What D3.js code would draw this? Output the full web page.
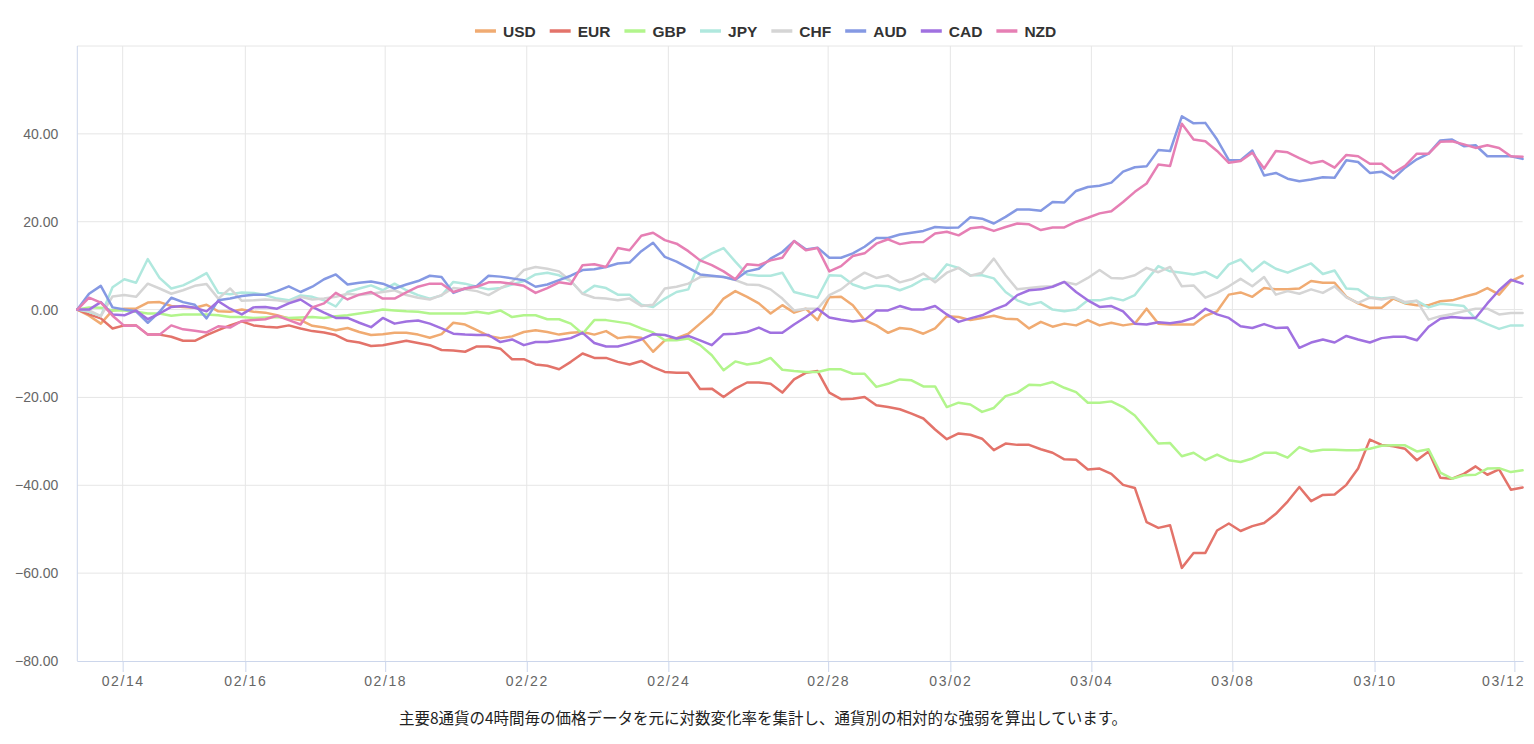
<!DOCTYPE html>
<html>
<head>
<meta charset="utf-8">
<script src="https://cdn.jsdelivr.net/npm/d3@7/dist/d3.min.js"></script>
<style>
  body { margin: 0; background: #fff; }
</style>
</head>
<body>
<div id="chart"></div>
<script>
// 4h points, index 0..123 (weekends collapsed)
var USD = [0,-1.4,-3.2,-0.2,0.2,0.2,1.6,1.7,0.8,0.6,0.4,1.1,-0.4,-0.5,0,-0.5,-0.7,-1.3,-2.0,-2.4,-3.7,-4.1,-4.7,-4.2,-5.1,-5.8,-5.6,-5.3,-5.3,-5.7,-6.4,-5.6,-3.0,-3.4,-4.7,-6.0,-6.5,-6.1,-5.1,-4.7,-5.1,-5.7,-5.3,-5.1,-5.7,-4.9,-6.5,-6.2,-6.4,-9.6,-7.0,-6.5,-5.5,-3.2,-0.9,2.5,4.2,2.9,1.4,-0.9,1.0,-0.7,0.2,-2.4,2.8,2.9,1.0,-2.4,-3.6,-5.3,-4.2,-4.5,-5.5,-4.3,-1.5,-1.7,-2.4,-1.9,-1.4,-2.1,-2.2,-4.3,-2.8,-3.9,-3.2,-3.6,-2.4,-3.6,-3.0,-3.6,-3.2,0.2,-3.2,-3.4,-3.4,-3.4,-1.4,-0.4,3.4,3.9,2.9,4.9,4.6,4.6,4.8,6.5,6.1,6.1,2.9,1.4,0.4,0.4,2.5,1.4,1.0,1.0,1.9,2.1,2.9,3.6,4.9,3.4,6.5,7.7];
var EUR = [0,-1.1,-2.0,-4.3,-3.6,-3.6,-5.7,-5.7,-6.2,-7.1,-7.1,-5.8,-4.7,-3.6,-2.7,-3.6,-3.9,-4.1,-3.6,-4.3,-4.9,-5.2,-5.8,-7.1,-7.5,-8.3,-8.1,-7.6,-7.1,-7.6,-8.1,-9.2,-9.3,-9.6,-8.4,-8.4,-8.9,-11.3,-11.3,-12.5,-12.8,-13.6,-11.9,-10.0,-11.0,-11.0,-11.9,-12.5,-11.7,-13.1,-14.2,-14.4,-14.4,-18.1,-18.0,-19.9,-18.0,-16.6,-16.6,-16.9,-18.9,-15.9,-14.4,-14.0,-18.9,-20.4,-20.3,-19.9,-21.8,-22.2,-22.7,-23.7,-24.8,-27.3,-29.5,-28.2,-28.5,-29.4,-32.0,-30.5,-30.8,-30.8,-31.8,-32.6,-34.1,-34.2,-36.4,-36.2,-37.4,-39.9,-40.6,-48.4,-49.7,-49.1,-58.8,-55.4,-55.4,-50.3,-48.7,-50.4,-49.3,-48.6,-46.5,-43.7,-40.4,-43.6,-42.2,-42.1,-39.9,-36.2,-29.6,-30.8,-31.1,-31.7,-34.3,-32.3,-38.3,-38.5,-37.4,-35.7,-37.6,-36.4,-41.0,-40.5];
var GBP = [0,0.5,0.4,-0.2,-0.2,-0.5,-0.9,-0.9,-1.4,-1.1,-1.1,-1.1,-1.3,-1.7,-1.7,-1.9,-1.8,-1.7,-1.9,-1.8,-1.7,-1.9,-1.5,-1.3,-0.9,-0.5,0,-0.2,-0.4,-0.5,-0.9,-0.9,-0.9,-0.9,-0.5,-0.9,-0.2,-1.7,-1.3,-1.3,-2.2,-2.2,-3.2,-5.5,-2.4,-2.4,-2.8,-3.2,-4.3,-5.2,-7.0,-7.0,-6.6,-8.1,-10.4,-13.8,-11.8,-12.5,-12.1,-11.0,-13.7,-14.0,-14.2,-14.2,-13.6,-13.6,-14.6,-14.6,-17.6,-16.9,-15.9,-16.1,-17.5,-17.5,-22.2,-21.2,-21.6,-23.3,-22.4,-19.7,-18.9,-17.1,-17.2,-16.5,-17.8,-18.8,-21.2,-21.2,-20.9,-22.2,-24.1,-27.3,-30.5,-30.4,-33.4,-32.6,-34.3,-33.0,-34.3,-34.7,-33.9,-32.6,-32.6,-33.7,-31.3,-32.3,-31.9,-31.9,-32.0,-32.0,-31.7,-31.0,-30.9,-30.9,-32.3,-31.8,-37.1,-38.5,-37.7,-37.6,-36.2,-36.1,-37.0,-36.6];
var JPY = [0,-0.5,-1.5,5.1,6.9,6.1,11.5,7.2,4.8,5.5,6.8,8.3,3.8,3.5,3.9,3.8,3.3,2.5,2.1,3.2,2.9,2.1,0.7,4.0,4.8,5.5,4.4,5.9,4.4,3.3,2.5,3.2,6.3,5.9,5.2,4.6,4.9,5.7,6.5,8.0,8.4,7.8,6.5,3.6,5.4,4.9,3.4,3.4,1.1,0.6,2.5,4.0,4.6,11.2,12.8,14.0,10.9,8.0,7.7,7.7,8.4,4.0,3.3,2.7,7.8,7.7,5.7,4.8,5.5,5.3,4.4,5.4,6.9,7.1,10.3,9.5,7.8,7.8,7.1,4.0,2.1,1.1,1.7,0,-0.4,0,2.1,2.1,2.7,2.1,3.3,6.7,9.9,8.7,8.4,8.0,8.6,7.2,10.3,11.4,8.7,10.9,9.3,8.4,9.5,10.5,8.1,8.9,4.8,4.6,2.8,2.5,2.8,1.5,2.0,0.5,1.3,1.1,0.8,-2.1,-3.3,-4.4,-3.6,-3.6];
var CHF = [0,-0.2,-1.5,3.0,3.3,2.9,5.9,4.8,3.6,4.4,5.4,5.8,2.5,4.8,2.0,2.1,2.3,2.1,1.7,2.9,2.3,2.5,2.9,3.6,3.3,3.6,4.0,4.4,3.3,2.7,2.3,3.3,4.9,4.6,4.2,3.3,4.8,6.3,9.0,9.7,9.3,8.7,6.5,3.6,2.7,2.5,2.1,2.5,0.8,1.1,4.8,5.2,5.9,7.4,7.6,7.4,6.7,5.7,5.6,4.6,2.5,-0.2,0.2,0.2,3.3,4.6,6.7,8.4,7.2,7.8,6.2,6.9,8.2,6.2,8.4,9.5,7.7,8.4,11.6,7.8,4.6,4.9,5.2,5.3,6.3,5.7,7.2,9.0,7.2,7.1,7.8,9.5,8.5,9.7,5.3,5.5,2.7,3.8,5.3,7.0,5.3,7.4,3.4,4.2,3.6,4.6,3.8,5.3,2.8,1.5,2.7,2.3,2.8,1.7,2.0,-2.3,-1.5,-1.0,-0.4,0.2,0.2,-1.1,-0.8,-0.8];
var AUD = [0,3.6,5.4,0.5,0,-0.4,-3.0,-0.5,2.7,1.7,1.1,-2.0,2.1,2.5,3.1,3.4,3.4,4.2,5.3,4.0,5.2,6.9,8.0,5.7,6.1,6.4,5.9,4.8,5.7,6.5,7.7,7.4,3.8,4.8,5.4,7.7,7.5,7.1,6.7,5.2,5.7,6.7,7.7,9.0,9.2,9.7,10.5,10.7,13.3,15.2,12.0,10.9,9.5,8.0,7.7,7.4,6.8,8.7,9.3,11.6,13.1,15.6,13.7,14.1,11.8,11.8,12.8,14.3,16.3,16.3,17.1,17.5,17.9,18.8,18.6,18.7,21.0,20.7,19.6,21.1,22.8,22.8,22.5,24.5,24.4,27.0,27.9,28.2,28.9,31.4,32.4,32.6,36.3,36.1,44.0,42.4,42.5,38.7,34.0,34.0,36.2,30.5,31.1,29.8,29.2,29.6,30.1,30.0,34.0,33.6,31.1,31.4,29.8,32.3,34.2,35.5,38.5,38.7,37.2,37.4,34.9,34.9,34.9,34.3];
var CAD = [0,0,1.7,-1.1,-1.3,-0.2,-2.2,-0.9,0.6,0.8,0.4,-0.4,1.9,0.2,-1.1,0.5,0.6,0.2,1.4,2.3,0.6,-0.7,-1.9,-1.9,-3.0,-4.0,-1.9,-3.2,-2.7,-2.5,-3.2,-4.3,-5.5,-5.7,-5.8,-5.8,-7.4,-6.8,-8.1,-7.4,-7.4,-7.0,-6.5,-5.3,-7.6,-8.4,-8.4,-7.7,-6.8,-5.6,-5.8,-6.6,-6.0,-7.0,-8.1,-5.6,-5.5,-5.1,-4.1,-5.3,-5.3,-3.4,-1.7,0.2,-1.8,-2.3,-2.7,-2.4,-0.2,-0.2,0.8,0,0,0.8,-1.1,-2.8,-2.0,-1.3,0,1.0,3.3,4.4,4.6,5.2,6.3,4.0,2.1,0.6,0.8,-0.4,-3.2,-3.4,-2.9,-3.1,-2.7,-1.9,0.2,-1.1,-1.9,-3.8,-4.2,-3.3,-4.2,-4.1,-8.7,-7.5,-6.8,-7.5,-6.0,-6.8,-7.5,-6.5,-6.2,-6.2,-7.0,-3.9,-2.1,-1.7,-1.9,-1.9,1.4,4.4,6.8,5.9];
var NZD = [0,2.7,1.6,-1.4,-3.7,-3.6,-5.7,-5.7,-3.6,-4.5,-4.8,-5.2,-3.8,-4.1,-2.6,-2.4,-2.2,-1.4,-2.4,-3.4,0.5,1.4,3.8,2.3,3.4,4.0,2.5,2.5,3.9,5.2,5.9,5.9,4.0,4.8,5.2,6.2,6.2,5.9,5.4,3.8,4.9,6.2,5.8,10.1,10.3,9.7,14.0,13.5,16.8,17.5,15.8,15.0,13.3,11.2,10.1,8.7,6.9,10.3,10.1,11.2,11.8,15.6,13.5,14.0,8.7,9.9,12.2,12.8,15.0,16.0,14.9,15.3,15.4,17.3,17.7,16.9,18.5,18.8,17.9,18.8,19.6,19.4,18.1,18.7,18.7,20.0,20.9,21.9,22.4,24.5,26.8,28.7,33.0,32.7,42.3,38.7,38.3,36.1,33.4,33.8,35.7,32.1,36.1,35.8,34.5,33.3,33.8,32.3,35.2,34.9,33.2,33.2,31.1,32.7,35.5,35.5,38.2,38.3,37.6,36.8,37.4,36.8,34.9,34.8];

var currencies = ["USD", "EUR", "GBP", "JPY", "CHF", "AUD", "CAD", "NZD"];
var seriesData = [USD, EUR, GBP, JPY, CHF, AUD, CAD, NZD];
var colors = ['#f0ab72', '#e3736a', '#b2f58c', '#b0e8de', '#d5d5d5', '#8599e3', '#a071e0', '#e67fb4'];

var tickLabels = ["02/14", "02/16", "02/18", "02/22", "02/24", "02/28", "03/02", "03/04", "03/08", "03/10", "03/12"];
var tickIdx = [3.86, 14.3, 26.2, 38.25, 50.3, 63.9, 74.3, 86.3, 98.3, 110.4, 122.3];
var yTicks = [-80, -60, -40, -20, 0, 20, 40];
var yGrid = [-60, -40, -20, 0, 20, 40, 60];

var note = "主要8通貨の4時間毎の価格データを元に対数変化率を集計し、通貨別の相対的な強弱を算出しています。";

var W = 1534, H = 744;
var margin = {top: 46, right: 11.4, bottom: 83, left: 77.3},
    width = W - margin.left - margin.right,
    height = H - margin.top - margin.bottom;

var svg = d3.select("#chart").append("svg")
    .attr("width", W)
    .attr("height", H)
    .style("font-family", "'Liberation Sans', Arial, sans-serif");

var g = svg.append("g")
    .attr("transform", "translate(" + margin.left + "," + margin.top + ")");

var x = d3.scaleLinear()
    .domain([0, USD.length - 1])
    .range([0, width]);

var y = d3.scaleLinear()
    .domain([-80, 60])
    .range([height, 0]);

// grid
g.selectAll(".hgrid").data(yGrid).enter().append("line")
    .attr("x1", 0).attr("x2", width)
    .attr("y1", function(d) { return y(d); })
    .attr("y2", function(d) { return y(d); })
    .style("stroke", "#e6e6e6")
    .style("stroke-width", 1);

g.selectAll(".vgrid").data(tickIdx).enter().append("line")
    .attr("x1", function(d) { return x(d); })
    .attr("x2", function(d) { return x(d); })
    .attr("y1", 0).attr("y2", height)
    .style("stroke", "#e6e6e6")
    .style("stroke-width", 1);

// y axis
var yAxis = g.append("g")
    .call(d3.axisLeft(y).tickValues(yTicks).tickSize(0).tickPadding(19)
      .tickFormat(function(d) { return d3.format(".2f")(d).replace("-", "\u2212"); }));
yAxis.select(".domain").remove();
yAxis.selectAll("text")
    .style("font-family", "'Liberation Sans', Arial, sans-serif")
    .style("font-size", "14px")
    .style("fill", "#666");

g.append("line")
    .attr("x1", 0).attr("x2", 0).attr("y1", 0).attr("y2", height)
    .style("stroke", "#ccd6eb");

// x axis
var xAxis = g.append("g")
    .attr("transform", "translate(0," + height + ")")
    .call(d3.axisBottom(x).tickValues(tickIdx).tickSize(11).tickPadding(4)
      .tickFormat(function(d, i) { return tickLabels[i]; }));
xAxis.select(".domain").attr("d", "M0,0.5H" + (width + 1)).style("stroke", "#ccd6eb");
xAxis.selectAll(".tick line").style("stroke", "#ccd6eb");
xAxis.selectAll("text")
    .style("font-family", "'Liberation Sans', Arial, sans-serif")
    .style("font-size", "14px")
    .style("letter-spacing", "1.6px")
    .style("fill", "#666");

// keep last label inside the plot, like the original
var lastTick = xAxis.selectAll(".tick").filter(function(d, i) { return i === tickIdx.length - 1; });
lastTick.select("text")
    .attr("text-anchor", "end")
    .attr("x", width + 2 - x(tickIdx[tickIdx.length - 1]));

// lines
var line = d3.line()
    .x(function(d, i) { return x(i); })
    .y(function(d) { return y(d); });

g.selectAll(".series").data(seriesData).enter().append("path")
    .attr("class", "series")
    .attr("d", function(d) { return line(d); })
    .style("fill", "none")
    .style("stroke", function(d, i) { return colors[i]; })
    .style("stroke-width", 2.5)
    .style("stroke-linejoin", "round")
    .style("stroke-linecap", "round");

// legend
var legend = svg.append("g");
var lx = 0;
currencies.forEach(function(c, i) {
  var item = legend.append("g").attr("transform", "translate(" + lx + ",0)");
  item.append("line")
    .attr("x1", 0).attr("x2", 21).attr("y1", 0).attr("y2", 0)
    .style("stroke", colors[i]).style("stroke-width", 3.5);
  var t = item.append("text")
    .attr("x", 28).attr("y", 5.5)
    .text(c)
    .style("font-size", "15.5px")
    .style("font-weight", "bold")
    .style("fill", "#333");
  lx += 28 + t.node().getComputedTextLength() + 14;
});
var legendW = lx - 14;
legend.attr("transform", "translate(" + (765.6 - legendW / 2) + ",31)");

svg.append("text")
    .attr("x", 763)
    .attr("y", 724)
    .attr("text-anchor", "middle")
    .text(note)
    .style("font-family", "'Noto Sans CJK JP', sans-serif")
    .style("font-size", "15.5px")
    .style("fill", "#222");
</script>
</body>
</html>
